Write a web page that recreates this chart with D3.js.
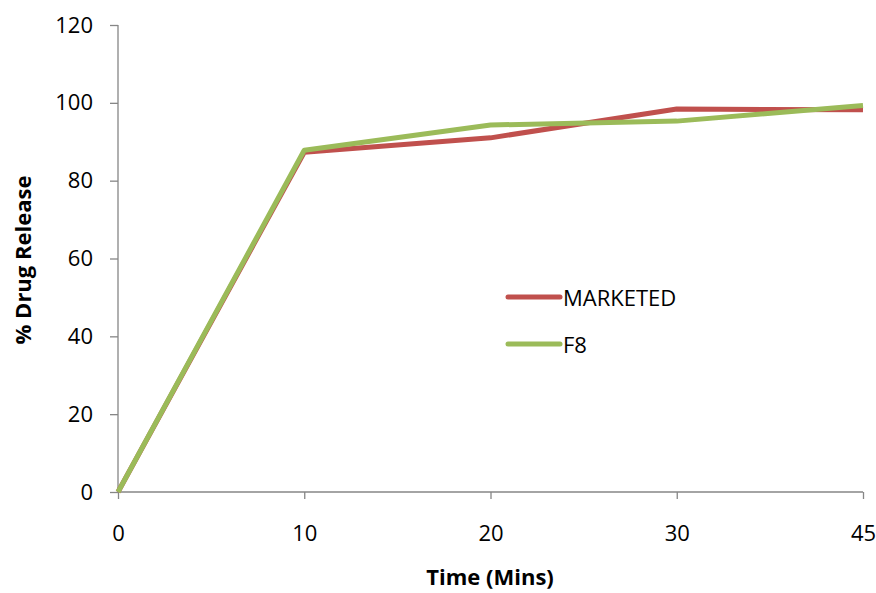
<!DOCTYPE html>
<html><head><meta charset="utf-8">
<script src="https://cdn.jsdelivr.net/npm/d3@7"></script>
<style>body{margin:0;background:#fff;} text{font-family:"Open Sans","Liberation Sans",sans-serif;}</style>
</head><body>
<svg id="c" width="876" height="593"></svg>
<script>
const categories = ["0","10","20","30","45"];
const marketed = [0, 87.3, 91.0, 98.4, 98.2];
const f8 = [0, 87.8, 94.3, 95.3, 99.3];
const yTicks = [0,20,40,60,80,100,120];
const seriesNames = ["MARKETED","F8"];
const colors = ["#C0504D","#9BBB59"];

const svg = d3.select("#c");
const x = d3.scalePoint().domain(categories).range([118, 863]);
const y = d3.scaleLinear().domain([0,120]).range([492, 25]);

const yAxis = svg.append("g").attr("transform","translate(118,0)")
  .call(d3.axisLeft(y).tickValues(yTicks).tickSize(8).tickPadding(17));
const xAxis = svg.append("g").attr("transform","translate(0,492)")
  .call(d3.axisBottom(x).tickSize(7).tickPadding(26));
[yAxis,xAxis].forEach(a=>{
  a.selectAll("path,line").attr("stroke","#868686").attr("stroke-width",1.3);
  a.selectAll("text").attr("font-size",22).attr("fill","#000").attr("font-family","'Open Sans',sans-serif");
});
yAxis.select("path").attr("d","M0,25V492");
xAxis.select("path").attr("d","M118,0H863");

const line = d3.line().x((d,i)=>x(categories[i])).y(d=>y(d));
[marketed,f8].forEach((s,k)=>{
  svg.append("path").datum(s).attr("d",line).attr("fill","none")
    .attr("stroke",colors[k]).attr("stroke-width",5).attr("stroke-linejoin","round");
});

// legend
seriesNames.forEach((n,k)=>{
  const ly = 297 + k*47;
  svg.append("line").attr("x1",508).attr("x2",560).attr("y1",ly).attr("y2",ly)
    .attr("stroke",colors[k]).attr("stroke-width",5).attr("stroke-linecap","round");
  svg.append("text").attr("x",563).attr("y",ly+8.5).attr("font-size",22).text(n);
});

svg.append("text").attr("transform","translate(31,260) rotate(-90)").attr("text-anchor","middle")
  .attr("font-size",22).attr("font-weight","bold").text("% Drug Release");
svg.append("text").attr("x",490).attr("y",585).attr("text-anchor","middle")
  .attr("font-size",22).attr("font-weight","bold").text("Time (Mins)");
</script>
</body></html>
